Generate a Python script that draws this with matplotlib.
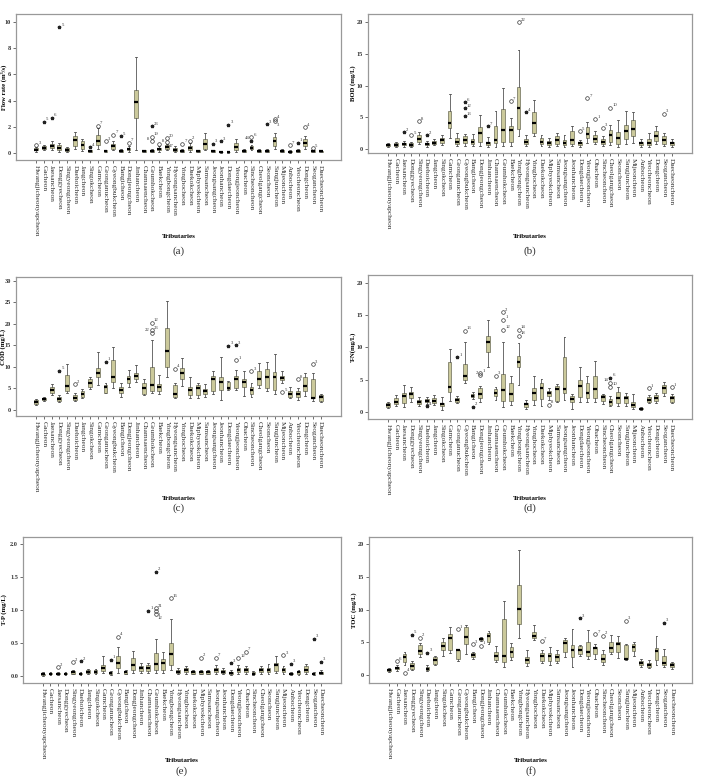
import matplotlib
matplotlib.use("Agg")
import matplotlib.pyplot as plt

plt.rcParams['font.family'] = ['Liberation Serif', 'DejaVu Serif']

tributaries = [
    "Hwangjicheonyapcheon", "Gacheon", "Jaesancheon", "Donggyecheon", "Singyeongcheon",
    "Daehoicheon", "Jangcheon", "Singokcheon", "Gamcheon", "Geonganucheon",
    "Gyeongbukcheon", "Bangicheon", "Dongjeongcheon", "Jinhancheon", "Chamsaencheon",
    "Geumhokcheon", "Baekcheon", "Yongbongcheon", "Hyeongsancheon", "Yonghocheon",
    "Daekokcheon", "Miphyeokcheon", "Samsancheon", "Jeongsangcheon", "Jeonhancheon",
    "Dongdaecheon", "Yeongjeoncheon", "Ohacheon", "Sincheoncheon", "Cheolgangcheon",
    "Seoncheon", "Sangjuncheon", "Mijeoncheon", "Anbocheon", "Yeocheoncheon",
    "Dongcheon", "Seogancheon", "Daecheoncheon",
]

# ---------------- (a) Flow rate ----------------
a_lo  = [0.1,0.2,0.2,0.1,0.1,0.3,0.15,0.05,0.3,0.05,0.2,0.05,0.1,0.2,0.05,0.05,0.1,0.2,0.1,0.05,
         0.1,0.05,0.2,0.05,0.02,0.02,0.1,0.05,0.2,0.05,0.05,0.3,0.05,0.02,0.05,0.3,0.05,0.05]
a_q1  = [0.2,0.3,0.35,0.25,0.15,0.5,0.3,0.1,0.6,0.1,0.3,0.1,0.2,2.65,0.1,0.1,0.2,0.3,0.15,0.1,
         0.2,0.1,0.3,0.1,0.05,0.05,0.2,0.1,0.3,0.1,0.1,0.5,0.1,0.05,0.1,0.5,0.1,0.08]
a_med = [0.25,0.4,0.5,0.35,0.25,1.0,0.6,0.15,0.9,0.15,0.5,0.15,0.3,3.9,0.15,0.15,0.3,0.45,0.25,0.15,
         0.35,0.15,0.7,0.15,0.08,0.08,0.45,0.15,0.4,0.15,0.15,0.9,0.15,0.08,0.15,0.8,0.15,0.12]
a_q3  = [0.35,0.5,0.7,0.6,0.35,1.3,0.9,0.2,1.4,0.2,0.7,0.25,0.4,4.8,0.2,0.2,0.4,0.6,0.4,0.2,
         0.55,0.2,1.1,0.2,0.1,0.1,0.8,0.2,0.5,0.2,0.2,1.2,0.2,0.12,0.2,1.1,0.2,0.15]
a_hi  = [0.45,0.65,0.9,0.8,0.45,1.6,1.1,0.25,1.9,0.25,0.9,0.3,0.5,7.3,0.25,0.3,0.5,0.7,0.55,0.3,
         0.8,0.25,1.5,0.25,0.15,0.15,1.1,0.3,0.6,0.3,0.3,1.5,0.3,0.2,0.3,1.3,0.25,0.2]
a_out_idx  = [0,1,2,3,7,8,9,10,11,12,15,15,15,16,17,17,19,20,23,24,25,28,28,30,31,31,33,34,35,36]
a_out_val  = [0.6,2.4,2.7,9.6,0.45,2.1,0.9,1.4,1.3,0.8,2.05,1.25,0.9,0.7,1.15,0.85,0.7,0.95,0.7,0.9,
              2.15,1.2,0.95,2.2,2.6,2.45,0.6,0.8,1.95,0.35]
a_out_kind = ['o','*','*','*','*','o','o','o','*','o','*','o','o','o','o','o','o','o','*','*',
              '*','o','*','*','o','o','o','*','o','o']
a_out_lab  = ['3','5','6','5','4','7','3','7','5','7','23','19','8','8','20','17','7','2','3','3',
              '3','6','44','3','4','3','7','1','4','5']

# ---------------- (b) BOD ----------------
b_lo  = [0.3,0.3,0.4,0.3,0.8,0.4,0.6,0.6,1.7,0.5,0.5,0.5,0.5,0.4,0.3,0.5,0.5,2.0,0.5,2.0,
         0.5,0.3,0.5,0.4,0.5,0.4,1.0,0.8,0.5,0.6,0.3,0.8,1.0,0.3,0.4,0.8,0.5,0.4]
b_q1  = [0.5,0.5,0.6,0.5,1.2,0.6,0.8,1.0,3.3,0.8,1.0,0.8,1.1,0.6,1.0,1.15,1.15,3.25,0.8,2.5,
         0.8,0.6,0.8,0.6,0.8,0.6,1.8,1.2,0.8,1.2,0.8,1.6,2.05,0.6,0.6,1.3,0.8,0.6]
b_med = [0.6,0.7,0.8,0.7,1.6,0.8,1.0,1.4,4.1,1.2,1.4,1.2,2.6,0.9,1.5,3.1,3.1,6.5,1.2,4.1,
         1.2,0.9,1.4,1.0,1.5,0.9,2.4,1.6,1.2,2.2,1.7,2.85,3.25,0.9,1.0,2.05,1.5,0.9]
b_q3  = [0.8,0.9,1.0,0.9,2.2,1.0,1.3,1.8,6.0,1.8,2.0,1.6,3.5,1.2,3.6,6.3,3.6,9.8,1.6,5.9,
         1.8,1.3,2.0,1.5,2.8,1.2,3.5,2.2,1.6,3.0,2.7,3.8,4.55,1.2,1.6,2.8,2.0,1.2]
b_hi  = [1.0,1.1,1.3,1.2,2.7,1.3,1.6,2.3,8.7,2.5,2.4,2.4,5.35,1.9,6.0,9.65,4.9,15.7,2.2,7.7,
         2.3,1.8,2.5,2.2,3.6,1.5,4.3,2.9,2.1,3.8,4.65,6.0,5.9,1.6,2.6,3.6,2.6,1.6]
b_out_idx  = [2,3,4,5,10,10,10,13,16,17,18,25,26,27,28,29,36]
b_out_val  = [2.7,2.2,4.45,2.2,7.4,6.5,5.2,3.6,7.6,20.05,5.8,2.85,8.0,4.7,3.4,6.55,5.6]
b_out_kind = ['*','o','o','*','*','*','*','*','o','o','*','o','o','o','o','o','o']
b_out_lab  = ['2','5','8','2','6','12','13','7','7','22','4','5','7','1','3','10','3']

# ---------------- (c) COD ----------------
c_lo  = [1.2,2.1,3.5,1.9,3.9,2.0,2.7,4.8,5.8,3.9,5.05,3.0,5.4,6.5,3.5,3.9,3.6,7.75,2.7,5.5,
         2.7,2.7,3.1,3.6,2.3,4.6,4.6,3.3,3.0,5.0,4.3,3.6,6.3,2.7,2.3,3.3,2.2,1.9]
c_q1  = [1.4,2.3,4.0,2.1,4.3,2.3,3.1,5.3,7.6,4.0,6.4,4.0,6.2,7.1,3.8,4.3,4.5,9.9,3.1,7.1,
         3.5,3.5,3.6,4.3,4.6,4.8,5.1,5.4,3.6,5.8,5.0,4.6,6.9,3.1,3.1,4.3,2.7,2.1]
c_med = [1.8,2.5,4.6,2.5,5.6,2.8,3.6,6.2,8.5,5.4,7.75,4.6,7.3,7.9,5.2,5.8,5.4,13.7,3.7,8.5,
         4.6,5.0,4.3,7.3,6.5,5.1,7.1,6.4,4.6,7.1,7.6,7.6,7.5,3.6,3.7,5.6,2.8,3.1]
c_q3  = [2.3,2.7,5.4,3.1,8.1,3.5,4.3,7.2,9.8,5.8,11.6,5.3,7.9,8.5,6.2,10.1,6.0,19.0,5.8,9.8,
         5.4,5.8,4.9,7.9,7.7,6.6,7.9,7.2,5.4,9.1,9.5,8.9,8.0,4.5,4.5,7.6,7.3,3.4]
c_hi  = [2.5,2.9,6.0,3.4,10.6,4.0,4.9,7.6,13.4,6.2,14.6,6.2,9.3,10.5,7.1,16.2,8.2,25.4,6.2,12.0,
         7.7,6.2,6.0,9.1,12.2,6.8,9.3,9.0,6.2,10.8,11.2,13.1,9.0,5.4,5.0,8.5,8.7,3.7]
c_out_idx  = [3,5,9,15,15,15,18,25,26,26,28,32,34,36]
c_out_val  = [9.1,6.0,11.2,20.3,18.5,18.0,9.6,14.9,15.1,11.6,9.0,4.1,7.1,10.6]
c_out_kind = ['*','o','*','o','o','o','o','*','*','o','o','o','o','o']
c_out_lab  = ['5','2','1','12','23','22','4','3','3','1','3','5','8','3']

# ---------------- (d) T-N ----------------
d_lo  = [0.6,0.85,0.7,1.6,0.95,1.2,1.0,0.3,1.75,1.4,4.45,2.0,1.6,6.9,1.9,0.8,1.1,4.2,0.4,1.1,
         0.9,1.9,1.5,1.85,0.4,1.6,1.6,1.6,1.3,0.9,0.95,0.85,0.4,0.3,1.35,1.45,2.4,1.35]
d_q1  = [0.73,1.2,1.35,2.1,1.25,1.5,1.45,0.85,3.15,1.6,4.95,2.25,2.2,9.35,2.5,1.7,1.75,6.9,0.8,1.8,
         2.0,2.5,1.75,2.9,1.5,2.35,2.1,2.1,1.75,1.0,1.35,1.45,0.7,0.4,1.6,1.75,2.9,1.6]
d_med = [1.1,1.6,2.4,2.8,1.55,1.7,1.75,1.2,3.9,1.85,5.6,2.5,2.7,10.75,3.0,3.4,2.8,7.65,1.2,2.9,
         3.7,2.9,3.6,3.6,2.0,4.0,2.9,3.5,2.3,1.55,2.1,2.1,1.1,0.5,1.9,2.2,3.7,2.1]
d_q3  = [1.45,2.1,3.0,3.1,1.85,2.0,2.1,1.45,7.7,2.1,7.45,2.75,3.7,11.8,3.5,5.9,4.4,8.7,1.45,3.7,
         4.4,3.3,4.0,8.5,2.5,4.95,4.4,5.6,2.6,2.0,3.05,2.45,1.6,0.6,2.3,2.6,4.2,2.45]
d_hi  = [1.6,2.6,4.2,3.8,2.3,2.3,2.6,2.3,9.8,2.4,10.9,3.1,4.0,14.3,3.9,10.75,5.6,10.6,1.9,5.6,
         5.1,3.7,4.3,11.6,2.75,6.9,5.6,7.95,2.8,2.45,3.9,3.0,2.75,0.8,2.6,2.95,4.6,2.75]
d_out_idx  = [5,9,10,11,12,12,14,15,15,15,17,17,21,29,29,29,34,37]
d_out_val  = [0.9,8.5,12.6,0.8,6.0,5.7,5.6,15.4,14.3,12.7,12.7,11.8,1.1,5.3,4.5,3.9,3.7,3.85]
d_out_kind = ['*','*','o','*','o','o','o','o','o','o','o','o','o','*','o','o','o','o']
d_out_lab  = ['4','1','13','2','1','2','3','2','1','12','14','18','8','6','14','10','1','1']

# ---------------- (e) T-P ----------------
e_lo  = [0.01,0.02,0.02,0.02,0.03,0.02,0.04,0.04,0.05,0.02,0.05,0.03,0.05,0.05,0.05,0.05,0.05,0.1,0.03,0.04,
         0.03,0.03,0.03,0.04,0.03,0.02,0.04,0.04,0.02,0.04,0.04,0.05,0.04,0.02,0.02,0.04,0.02,0.03]
e_q1  = [0.02,0.03,0.03,0.03,0.04,0.03,0.05,0.05,0.08,0.03,0.13,0.04,0.1,0.08,0.08,0.1,0.1,0.17,0.05,0.06,
         0.04,0.04,0.04,0.07,0.05,0.04,0.07,0.07,0.03,0.06,0.07,0.08,0.06,0.03,0.04,0.06,0.03,0.04]
e_med = [0.03,0.04,0.04,0.04,0.06,0.04,0.07,0.07,0.12,0.05,0.2,0.06,0.17,0.12,0.12,0.18,0.2,0.33,0.07,0.09,
         0.06,0.06,0.06,0.1,0.07,0.05,0.1,0.1,0.04,0.09,0.1,0.17,0.09,0.04,0.06,0.1,0.04,0.05]
e_q3  = [0.04,0.05,0.05,0.05,0.08,0.05,0.09,0.09,0.17,0.06,0.3,0.08,0.27,0.16,0.17,0.35,0.26,0.5,0.09,0.12,
         0.08,0.08,0.08,0.12,0.09,0.07,0.13,0.12,0.06,0.12,0.13,0.2,0.12,0.05,0.08,0.15,0.05,0.07]
e_hi  = [0.06,0.07,0.07,0.07,0.1,0.06,0.11,0.11,0.3,0.08,0.45,0.1,0.38,0.2,0.2,0.57,0.36,0.86,0.12,0.16,
         0.1,0.1,0.1,0.17,0.12,0.09,0.17,0.16,0.08,0.15,0.18,0.3,0.15,0.07,0.1,0.18,0.07,0.09]
e_out_idx  = [2,4,5,9,10,14,15,15,15,15,17,21,23,25,26,27,32,33,36,37]
e_out_val  = [0.14,0.21,0.23,0.25,0.6,0.99,1.58,1.03,0.98,0.94,1.18,0.28,0.28,0.2,0.27,0.37,0.32,0.19,0.57,0.22]
e_out_kind = ['o','o','*','*','o','*','*','o','o','o','o','o','o','*','o','o','o','*','*','*']
e_out_lab  = ['2','2','2','1','4','1','2','21','1','12','16','2','7','3','12','7','3','3','3','3']

# ---------------- (f) TOC ----------------
f_lo  = [0.5,0.7,1.6,0.8,2.8,0.6,1.5,3.0,3.4,2.2,3.3,2.5,5.2,4.7,2.0,1.3,2.3,5.6,1.4,5.3,
         1.8,1.5,1.8,2.8,1.2,3.0,2.4,2.4,1.5,3.2,2.6,2.3,3.0,1.3,1.1,1.5,1.3,1.0]
f_q1  = [0.6,0.9,2.0,1.0,3.3,0.8,1.7,3.9,3.9,2.5,4.7,2.8,5.4,5.0,2.3,2.0,2.8,7.75,1.8,5.6,
         2.2,2.2,2.2,3.6,2.8,3.2,3.0,3.3,2.0,3.6,3.6,2.4,3.7,1.5,1.3,2.3,1.5,1.3]
f_med = [0.8,1.1,2.7,1.4,3.7,1.0,2.3,4.5,5.7,3.8,5.75,3.1,5.5,6.0,2.9,2.9,3.6,10.1,2.3,6.0,
         2.9,2.9,2.8,4.9,3.9,3.9,3.6,4.2,2.5,4.1,4.7,2.5,4.3,1.9,1.6,3.7,1.9,1.5]
f_q3  = [0.95,1.3,3.3,1.8,4.55,1.3,2.7,5.1,6.25,3.9,7.4,3.4,5.7,6.5,3.5,8.5,4.3,13.7,2.7,6.6,
         3.4,3.4,3.3,5.3,4.55,4.4,5.1,4.3,3.2,5.0,5.1,4.6,4.8,2.2,1.8,4.2,3.0,1.8]
f_hi  = [1.1,1.5,3.6,2.1,4.9,1.6,3.0,5.6,7.3,4.0,7.7,3.6,5.8,6.8,4.4,11.4,4.9,19.1,3.8,7.6,
         3.8,4.3,3.8,5.6,7.0,4.6,6.9,4.8,3.9,6.2,6.0,4.8,5.1,2.5,2.3,6.0,4.0,2.0]
f_out_idx  = [1,2,3,4,5,9,11,12,20,25,27,28,31,36]
f_out_val  = [2.1,0.35,6.2,5.7,3.4,7.0,4.7,4.5,5.2,8.7,6.3,6.0,8.3,8.0]
f_out_kind = ['o','o','*','o','*','o','o','o','o','*','o','o','o','*']
f_out_lab  = ['6','4','5','2','3','1','3','1','7','3','7','2','3','3']

BOX_FACE = "#cbc99b"
BOX_EDGE = "#6b6b55"
W, H = 702.0, 777.0
LABEL_MODES = {'R': ((1.5, 1.0), 'left'), 'L': ((-1.5, 1.0), 'right'),
               'B': ((1.5, -3.4), 'left')}


def panel(rect_px, lo, q1, med, q3, hi, oi, ov, ok, ol, ylim, yticks, yfmt, ylabel,
          ylabel_x, xlabel_y, cap, cap_y):
    x0, y0, x1, y1 = rect_px
    ax = fig.add_axes([x0 / W, 1 - y1 / H, (x1 - x0) / W, (y1 - y0) / H])
    n = len(tributaries)
    stats = []
    for i in range(n):
        stats.append(dict(whislo=lo[i], q1=q1[i], med=med[i], q3=q3[i],
                          whishi=hi[i], fliers=[], label=tributaries[i]))
    ax.bxp(stats, positions=list(range(n)), widths=0.5, patch_artist=True,
           showfliers=False, capwidths=0.25,
           boxprops=dict(facecolor=BOX_FACE, edgecolor=BOX_EDGE, linewidth=0.5),
           medianprops=dict(color="black", linewidth=1.6),
           whiskerprops=dict(color="#555555", linewidth=0.6),
           capprops=dict(color="#555555", linewidth=0.6))
    thr = 0.04 * (ylim[1] - ylim[0])
    placed = []  # (index, value, mode)
    for i, v, k, lab in zip(oi, ov, ok, ol):
        if k == 'o':
            ax.plot(i, v, marker='o', ms=2.6, mfc='none', mec='#333333', mew=0.5,
                    linestyle='none')
        else:
            ax.plot(i, v, marker='*', ms=2.4, color='#222222', linestyle='none')
        mode = 'R'
        same = [p for p in placed if p[0] == i and abs(p[1] - v) < thr]
        if same:
            last = same[-1][2]
            if last == 'L':
                mode = 'R'
            else:
                left_busy = any(p[0] == i - 1 and p[2] in ('R', 'B') and abs(p[1] - v) < thr
                                for p in placed)
                mode = 'B' if left_busy else 'L'
        placed.append((i, v, mode))
        off, ha = LABEL_MODES[mode]
        ax.annotate(lab, (i, v), xytext=off, textcoords='offset points',
                    fontsize=3.4, color='#333333', ha=ha)
    ax.set_xlim(-2.65, n - 1 + 2.65)
    ax.set_ylim(*ylim)
    ax.set_yticks(yticks)
    ax.set_yticklabels([yfmt.format(t) for t in yticks], fontsize=4.5, fontweight='bold')
    ax.set_xticks(list(range(n)))
    ax.set_xticklabels(tributaries, rotation=270, fontsize=5.3, ha='center', va='top')
    ax.tick_params(axis='both', length=2, width=0.5, pad=1.5, colors='#333333')
    for s in ax.spines.values():
        s.set_color('#999999')
        s.set_linewidth(0.9)
    cx = (x0 + x1) / 2 / W
    fig.text(ylabel_x / W, 1 - (y0 + y1) / 2 / H, ylabel, rotation=90, ha='center',
             va='center', fontsize=4.8, fontweight='bold')
    fig.text(cx, 1 - xlabel_y / H, "Tributaries", ha='center', va='center',
             fontsize=5, fontweight='bold')
    fig.text(cx, 1 - cap_y / H, cap, ha='center', va='center', fontsize=8,
             color='#333333')
    return ax


fig = plt.figure(figsize=(7.02, 7.77), dpi=100)

panel((16, 14, 341, 160), a_lo, a_q1, a_med, a_q3, a_hi,
      a_out_idx, a_out_val, a_out_kind, a_out_lab,
      (-0.53, 10.6), [0, 2, 4, 6, 8, 10], "{:g}", "Flow rate (m³/s)", 4, 237, "(a)", 251)
panel((368, 14, 692, 153), b_lo, b_q1, b_med, b_q3, b_hi,
      b_out_idx, b_out_val, b_out_kind, b_out_lab,
      (-0.6, 21.3), [0, 5, 10, 15, 20], "{:g}", "BOD (mg/L)", 353, 237, "(b)", 251)
panel((16, 277, 341, 416), c_lo, c_q1, c_med, c_q3, c_hi,
      c_out_idx, c_out_val, c_out_kind, c_out_lab,
      (-1.4, 30.9), [0, 5, 10, 15, 20, 25, 30], "{:g}", "COD (mg/L)", 3, 499, "(c)", 508)
panel((368, 275, 692, 419), d_lo, d_q1, d_med, d_q3, d_hi,
      d_out_idx, d_out_val, d_out_kind, d_out_lab,
      (-1.1, 21.2), [0, 5, 10, 15, 20], "{:g}", "T-N(mg/L)", 353, 499, "(d)", 508)
panel((23, 537, 341, 683), e_lo, e_q1, e_med, e_q3, e_hi,
      e_out_idx, e_out_val, e_out_kind, e_out_lab,
      (-0.1, 2.1), [0.0, 0.5, 1.0, 1.5, 2.0], "{:.1f}", "T-P (mg/L)", 4, 760, "(e)", 771)
panel((369, 537, 692, 683), f_lo, f_q1, f_med, f_q3, f_hi,
      f_out_idx, f_out_val, f_out_kind, f_out_lab,
      (-1.2, 21.1), [0, 5, 10, 15, 20], "{:g}", "TOC (mg/L)", 354, 760, "(f)", 771)

fig.savefig("out.png", dpi=100)
